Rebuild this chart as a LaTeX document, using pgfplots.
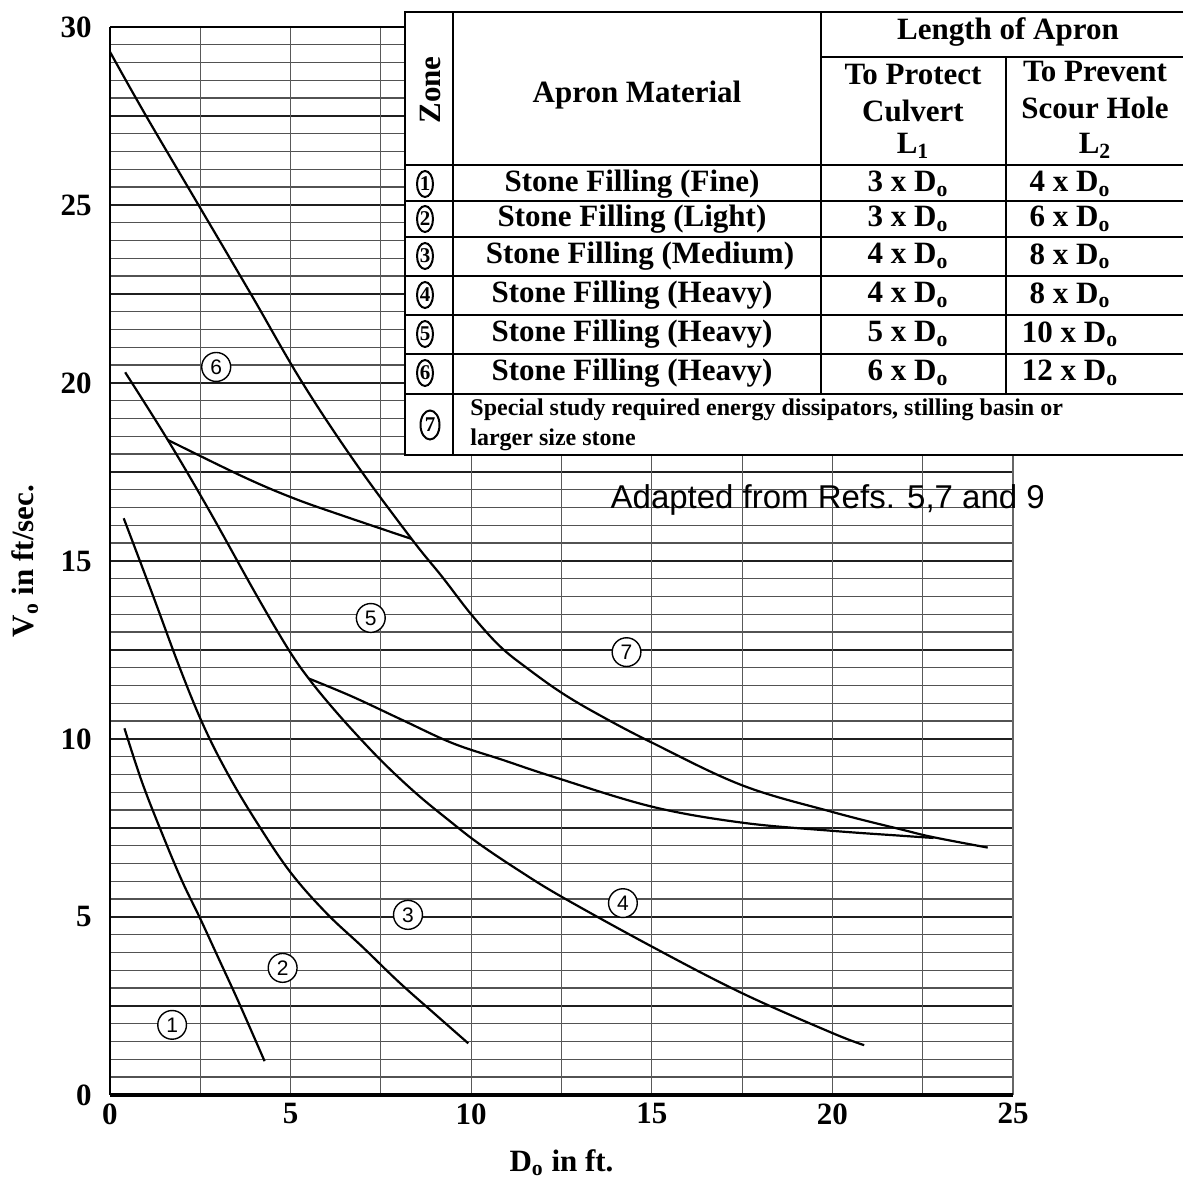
\documentclass[border=0pt]{standalone}
\usepackage{fontspec}
\setmainfont{Liberation Serif}
\setsansfont{Liberation Sans}
\usepackage{pgfplots}
\pgfplotsset{compat=1.18}
\usetikzlibrary{shapes.geometric}

\begin{document}
\begin{tikzpicture}
% ---------- grid (axis units: 25 x 30 over 451.5pt x 534pt) ----------
\begin{scope}[x=18.06pt, y=17.8pt]
  \foreach \i in {1,...,59} {\draw[black!68, line width=0.7pt] (0,\i*0.5) -- (25,\i*0.5);}
  \foreach \i in {1,...,11} {\draw[black!88, line width=1pt] (0,\i*2.5) -- (25,\i*2.5);}
  \foreach \i in {1,...,9} {\draw[black!65, line width=0.5pt] (\i*2.5,0) -- (\i*2.5,30);}
  \draw[black!60, line width=0.6pt] (25,0) -- (25,30);
  \draw[black, line width=0.9pt] (0,30) -- (25,30);
\end{scope}

\begin{axis}[
  at={(0pt,0pt)}, anchor=south west,
  scale only axis, width=451.5pt, height=534pt,
  xmin=0, xmax=25, ymin=0, ymax=30,
  xtick={0,5,...,25}, ytick={0,5,...,30},
  major tick length=0pt, minor tick length=0pt,
  axis line style={draw=none},
  /pgf/number format/assume math mode=true,
  tick label style={font=\fontsize{15.5}{16}\selectfont\bfseries},
  xticklabel style={inner sep=1pt, yshift=-3pt},
  yticklabel style={inner sep=1pt, xshift=-8pt},
  xlabel={D\textsubscript{o} in ft.},
  ylabel={V\textsubscript{o} in ft/sec.},
  label style={font=\fontsize{15.5}{16}\selectfont\bfseries},
  xlabel style={at={(axis description cs:0.5,0)}, anchor=center, yshift=-34pt},
  ylabel style={at={(axis description cs:0,0.5)}, anchor=center, yshift=42.5pt},
  clip=false,
  curve/.style={black, line width=1.1pt, mark=none, smooth, tension=0.6},
]
% Curve 1 (zone 1 / 2)
\addplot[curve] coordinates {(0.4,10.3) (0.9,8.75) (1.5,7.2) (2.0,6.0) (2.5,4.95) (3.0,3.85) (3.5,2.75) (4.0,1.6) (4.28,0.95)};
% Curve 2 (zone 2 / 3)
\addplot[curve] coordinates {(0.38,16.2) (1.2,14.0) (1.95,11.95) (2.6,10.35) (3.3,8.95) (4.1,7.6) (5.0,6.25) (6.0,5.1) (7.0,4.15) (8.0,3.17) (9.0,2.27) (9.92,1.45)};
% Curve 3 (zone 3 / 4 and 4 / 5 / 6)
\addplot[curve] coordinates {(0.42,20.3) (1.6,18.4) (2.74,16.43) (4.05,14.05) (4.95,12.5) (5.5,11.7) (6.1,10.95) (6.8,10.15) (7.6,9.3) (8.5,8.45) (9.4,7.7) (10.2,7.07) (11.3,6.32) (12.5,5.57) (15,4.17) (17.5,2.86) (20,1.74) (20.88,1.4)};
% Curve 4 (zone 6 / 5)
\addplot[curve] coordinates {(1.6,18.4) (3.68,17.37) (5.09,16.76) (6.51,16.25) (8.35,15.62)};
% Curve 5 (zone 5 / 7 lower)
\addplot[curve] coordinates {(5.5,11.7) (6.71,11.19) (8.1,10.53) (9.49,9.88) (10.88,9.41) (12.27,8.94) (15,8.1) (17.5,7.65) (20,7.42) (21.94,7.28) (22.8,7.22)};
% Curve 6 (zone 7 boundary)
\addplot[curve] coordinates {(0,29.3) (1.0,27.5) (2.45,25) (3.9,22.5) (5.3,20.05) (6.8,17.75) (8.35,15.62) (9.2,14.55) (10.0,13.5) (10.8,12.6) (11.6,11.95) (12.5,11.3) (13.5,10.7) (15,9.9) (17.5,8.7) (20,7.95) (21.94,7.45) (22.8,7.24) (24.3,6.95)};

% zone labels
\begin{scope}[every node/.style={draw, circle, line width=0.7pt, inner sep=1.8pt, font=\sffamily\fontsize{10.5}{10.5}\selectfont, fill=white}]
\node at (axis cs:1.72,1.97) {1};
\node at (axis cs:4.78,3.57) {2};
\node at (axis cs:8.25,5.06) {3};
\node at (axis cs:14.2,5.39) {4};
\node at (axis cs:7.22,13.4) {5};
\node at (axis cs:2.94,20.45) {6};
\node at (axis cs:14.3,12.44) {7};
\end{scope}
\node[anchor=west, font=\sffamily\fontsize{16.5}{17}\selectfont, inner sep=0pt] at (axis cs:13.85,16.7) {Adapted from Refs. 5,7 and 9};
\end{axis}

% axis borders
\begin{scope}[x=18.06pt, y=17.8pt]
  \draw[black, line width=1.3pt] (0,0) -- (0,30);
  \draw[black, line width=1.9pt] (0,0) -- (25,0);
\end{scope}

% ---------- table (pixel coordinates) ----------
\begin{scope}[shift={(-55pt,547.5pt)}, x=0.5pt, y=-0.5pt]
  \fill[white] (405,12) rectangle (1183,455);
  \draw[line width=1.2pt] (1183,12) -- (405,12) -- (405,455) -- (1183,455);
  \draw[line width=1pt] (453,12) -- (453,455);
  \draw[line width=1pt] (821,12) -- (821,394);
  \draw[line width=1pt] (1006,57) -- (1006,394);
  \draw[line width=1pt] (821,57) -- (1183,57);
  \foreach \yy in {165,201,237,276,315,354,394} {\draw[line width=1pt] (405,\yy) -- (1183,\yy);}
  \begin{scope}[every node/.style={font=\fontsize{15.5}{18}\selectfont\bfseries, inner sep=0pt}]
    \node[rotate=90] at (430,90) {Zone};
    \node at (637,95) {Apron Material};
    \node at (1008,32) {Length of Apron};
    \node at (913,75) {To Protect};
    \node at (913,111) {Culvert};
    \node at (913,146) {L\textsubscript{1}};
    \node at (1095,72) {To Prevent};
    \node at (1095,108) {Scour Hole};
    \node at (1095,146) {L\textsubscript{2}};
    \node at (632,184) {Stone Filling (Fine)};
    \node at (632,219) {Stone Filling (Light)};
    \node at (640,256) {Stone Filling (Medium)};
    \node at (632,295) {Stone Filling (Heavy)};
    \node at (632,334) {Stone Filling (Heavy)};
    \node at (632,373) {Stone Filling (Heavy)};
    \node at (908,184) {3 x D\textsubscript{o}};
    \node at (908,219) {3 x D\textsubscript{o}};
    \node at (908,256) {4 x D\textsubscript{o}};
    \node at (908,295) {4 x D\textsubscript{o}};
    \node at (908,334) {5 x D\textsubscript{o}};
    \node at (908,373) {6 x D\textsubscript{o}};
    \node at (1070,184) {4 x D\textsubscript{o}};
    \node at (1070,219) {6 x D\textsubscript{o}};
    \node at (1070,256) {8 x D\textsubscript{o}};
    \node at (1070,295) {8 x D\textsubscript{o}};
    \node at (1070,334) {10 x D\textsubscript{o}};
    \node at (1070,373) {12 x D\textsubscript{o}};
  \end{scope}
  \begin{scope}[every node/.style={draw, ellipse, line width=1pt, inner sep=0pt, minimum width=8pt, minimum height=13pt, font=\fontsize{10.5}{11}\selectfont\bfseries}]
    \node at (425,184) {1};
    \node at (425,219) {2};
    \node at (425,256) {3};
    \node at (425,295) {4};
    \node at (425,334) {5};
    \node at (425,373) {6};
    \node[minimum width=9.5pt, minimum height=14.5pt] at (430,425) {7};
  \end{scope}
  \begin{scope}[every node/.style={font=\fontsize{12}{14}\selectfont\bfseries, inner sep=0pt, anchor=west}]
    \node at (470,410) {Special study required energy dissipators, stilling basin or};
    \node at (470,440) {larger size stone};
  \end{scope}
  \pgfresetboundingbox
  \useasboundingbox (0,0) rectangle (1183,1186);
\end{scope}
\end{tikzpicture}
\end{document}
